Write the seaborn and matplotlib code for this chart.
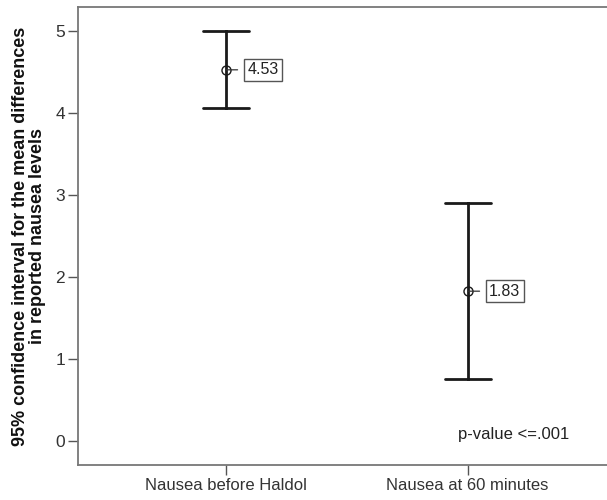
import numpy as np
import pandas as pd
import matplotlib
matplotlib.use("Agg")
import matplotlib.pyplot as plt
import seaborn as sns

categories = ["Nausea before Haldol", "Nausea at 60 minutes"]
means = [4.53, 1.83]
lower = [4.07, 0.76]
upper = [5.00, 2.90]
yticks = [0, 1, 2, 3, 4, 5]
ylabel = "95% confidence interval for the mean differences\nin reported nausea levels"
note = "p-value <=.001"

sns.set_theme(style="white")
plt.rcParams['font.family'] = ['Liberation Sans', 'DejaVu Sans']

rows = []
for c, lo, m, hi in zip(categories, lower, means, upper):
    for v in (lo, m, hi):
        rows.append({"group": c, "value": v})
df = pd.DataFrame(rows)

fig = plt.figure(figsize=(6.07, 5.0), dpi=100)
ax = fig.add_axes([0.1277, 0.07, 0.8723, 0.915])

sns.pointplot(data=df, x="group", y="value", order=categories,
              estimator=np.median, errorbar=("pi", 100),
              linestyle="none", color="#1a1a1a", capsize=0.19,
              markers="o", markersize=6.5, markerfacecolor="none",
              markeredgewidth=1.0, err_kws={"linewidth": 2.0}, ax=ax)

for i, m in enumerate(means):
    ax.annotate(f"{m:.2f}", xy=(i, m), xytext=(15.5, 0), textcoords="offset points",
                ha="left", va="center", fontsize=11.5, color="#222222",
                bbox=dict(boxstyle="square,pad=0.22", fc="white", ec="#555555", lw=1.0),
                arrowprops=dict(arrowstyle="-", color="#333333", lw=0.9, shrinkA=4, shrinkB=0))

ax.text(1.19, 0.085, note, ha="center", va="center", fontsize=12, color="#222222")

ax.set_xlim(-0.612, 1.576)
ax.set_ylim(-0.29, 5.29)
ax.set_yticks(yticks)
ax.set_yticklabels([str(t) for t in yticks])
ax.set_xlabel("")
ax.set_ylabel(ylabel, fontsize=13, fontweight="bold", color="#111111", labelpad=7, linespacing=1.0)

for s in ["left", "bottom", "top"]:
    ax.spines[s].set_visible(True)
    ax.spines[s].set_color("#777777")
    ax.spines[s].set_linewidth(1.3)
ax.spines["right"].set_visible(False)

ax.tick_params(axis="both", which="major", direction="out", length=7, width=1.0,
               color="#555555", labelcolor="#333333", pad=2,
               left=True, bottom=True)
ax.tick_params(axis="x", labelsize=12)
ax.tick_params(axis="y", labelsize=12.5)

fig.savefig("out.png", dpi=100)
